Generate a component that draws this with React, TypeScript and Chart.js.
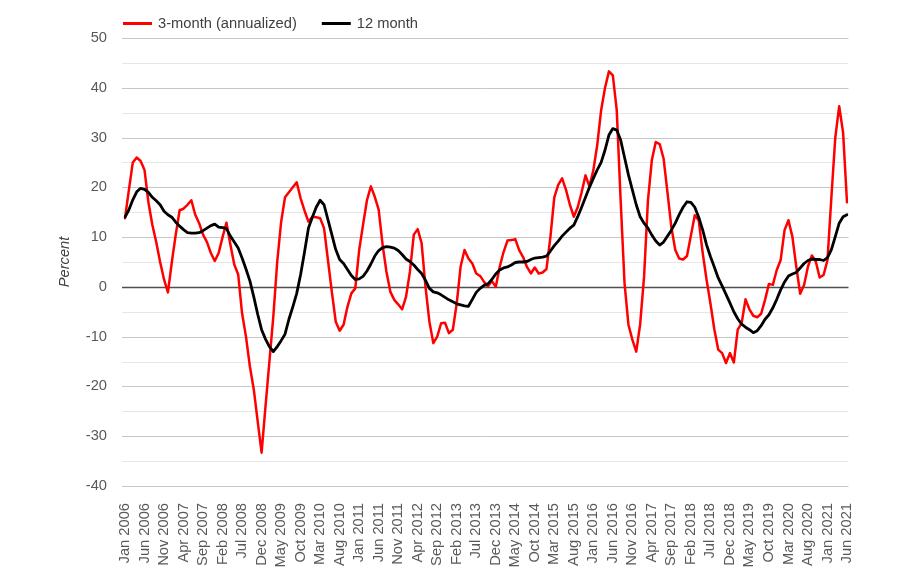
import React, { useEffect, useRef } from "react";
import { Chart, registerables } from "chart.js";

Chart.register(...registerables);

const MONTHS = ["Jan", "Feb", "Mar", "Apr", "May", "Jun", "Jul", "Aug", "Sep", "Oct", "Nov", "Dec"];
const START_YEAR = 2006;
const N_MONTHS = 186; // Jan 2006 .. Jun 2021
const categories: string[] = [];
for (let i = 0; i < N_MONTHS; i++) {
  categories.push(`${MONTHS[i % 12]} ${START_YEAR + Math.floor(i / 12)}`);
}
const LABEL_EVERY = 5;

const threeMonth = [
  13.8, 19.5, 25, 26, 25.3, 23.5, 17, 12.5, 9, 5, 1.5, -1.1,
  5, 10.5, 15.4, 15.7, 16.5, 17.4, 14.5, 12.8, 10.5, 9, 6.8, 5.2,
  6.8, 10, 12.9, 8.5, 4.5, 2.5, -5.3, -10, -16, -20.6, -27, -33.3,
  -24, -15, -6, 5, 13, 18, 19, 20, 21, 17.8, 15.3, 13.1,
  14.1, 14, 13.8, 11.8, 5.4, -1, -7, -8.8, -7.6, -4, -1.3, -0.3,
  7.4, 12.5, 17.4, 20.2, 18.1, 15.5, 8.5, 3, -1, -2.6, -3.5, -4.5,
  -2, 3, 10.5, 11.6, 8.8, 0, -7, -11.3, -10, -7.3, -7.2, -9.3,
  -8.6, -3.3, 4.1, 7.4, 5.7, 4.7, 2.7, 2.2, 1, 0.1, 1.2, 0,
  4, 7, 9.3, 9.4, 9.6, 7.4, 6, 4, 2.7, 3.9, 2.7, 2.9,
  3.6, 10, 18, 20.5, 21.8, 19.5, 16.5, 14.1, 16, 19, 22.4, 20.2,
  23.4, 28.5, 35.5, 40, 43.3, 42.5, 35.5, 17.4, 0.7, -7.6, -10.6, -13,
  -7.5, 2, 17.4, 25.5, 29.1, 28.7, 25.8, 19, 12, 7.4, 5.7, 5.5,
  6.2, 10.3, 14.4, 13.4, 7, 1.5, -3.3, -8.5, -12.6, -13.3, -15.3, -13.3,
  -15.2, -8.6, -7.3, -2.5, -4.5, -5.8, -6.1, -5.4, -2.6, 0.6, 0.4, 3.4,
  5.4, 11.4, 13.4, 10.1, 4.1, -1.4, 0.4, 4.1, 6.3, 5.1, 1.9, 2.4,
  5.4, 18, 30, 36.3, 31, 17,
];

const twelveMonth = [
  14, 15.5, 17.5, 19.1, 19.8, 19.6, 19, 18, 17.3, 16.5, 15.2, 14.5,
  14, 13, 12.2, 11.5, 10.9, 10.8, 10.8, 10.9, 11.3, 11.8, 12.3, 12.6,
  12, 11.9, 11.7, 10.2, 9, 7.8, 5.8, 3.6, 1.2, -2, -5.5, -8.6,
  -10.5, -12, -13, -12, -10.8, -9.5, -6.5, -4, -1.3, 2.5, 7, 11.8,
  14, 16, 17.4, 16.5, 13.5, 10.5, 7.5, 5.5, 4.7, 3.5, 2.3, 1.5,
  1.6, 2.1, 3.2, 4.6, 6.2, 7.3, 7.9, 8.1, 8, 7.8, 7.3, 6.5,
  5.6, 5.1, 4.4, 3.5, 2.7, 1.3, -0.3, -1, -1.2, -1.6, -2.1, -2.6,
  -3, -3.4, -3.6, -3.8, -3.9, -2.5, -1.1, -0.3, 0.3, 0.6, 1.5, 2.6,
  3.4, 3.8, 4, 4.4, 4.9, 5, 5, 5.1, 5.5, 5.8, 5.9, 6,
  6.2, 7.2, 8.3, 9.2, 10.2, 11, 11.8, 12.4, 14.1, 16, 18, 20,
  21.8, 23.5, 25, 27.5, 30.5, 31.8, 31.5, 29.5, 26, 22.5, 19.5, 16.5,
  14.1, 12.8, 11.8, 10.4, 9.2, 8.4, 9, 10.2, 11.4, 12.8, 14.5, 16,
  17.1, 17, 16, 14, 11.5, 8.5, 6.1, 4, 1.8, 0.2, -1.5, -3.2,
  -5, -6.4, -7.5, -8.1, -8.6, -9.2, -8.8, -7.8, -6.5, -5.6, -4.2, -2.5,
  -0.6, 1, 2.2, 2.6, 2.9, 3.8, 4.7, 5.3, 5.6, 5.5, 5.5, 5.3,
  5.9, 7.5, 10.1, 12.8, 14.1, 14.5,
];

const Y_MIN = -40;
const Y_MAX = 50;
const Y_STEP = 5;
const Y_LABEL_STEP = 10;

const SERIES_NAMES = ["3-month (annualized)", "12 month"];
const SERIES_COLORS = ["#ff0000", "#000000"];

const FONT = "'Liberation Sans', Arial, sans-serif";

const gridLegendPlugin = {
  id: "gridLegend",
  beforeDatasetsDraw(chart: any) {
    const { ctx, chartArea } = chart;
    const y = chart.scales.y;
    ctx.save();
    for (let v = Y_MIN; v <= Y_MAX; v += Y_STEP) {
      const py = Math.round(y.getPixelForValue(v)) + 0.5;
      ctx.beginPath();
      if (v === 0) {
        ctx.strokeStyle = "#505050";
        ctx.lineWidth = 1.3;
      } else if (v % Y_LABEL_STEP === 0) {
        ctx.strokeStyle = "#c6c6c6";
        ctx.lineWidth = 1;
      } else {
        ctx.strokeStyle = "#e6e6e6";
        ctx.lineWidth = 1;
      }
      ctx.moveTo(chartArea.left - 3, py);
      ctx.lineTo(chartArea.right + 1.5, py);
      ctx.stroke();
    }
    ctx.restore();
  },
  afterDraw(chart: any) {
    const { ctx } = chart;
    ctx.save();
    ctx.font = `14.7px ${FONT}`;
    ctx.textBaseline = "middle";
    ctx.textAlign = "left";
    const ly = 23.5;
    let x = 123;
    SERIES_NAMES.forEach((name, i) => {
      ctx.beginPath();
      ctx.strokeStyle = SERIES_COLORS[i];
      ctx.lineWidth = 3;
      ctx.moveTo(x, ly);
      ctx.lineTo(x + 29, ly);
      ctx.stroke();
      ctx.fillStyle = "#404040";
      ctx.fillText(name, x + 35, ly);
      const w = ctx.measureText(name).width;
      x = x + 35 + w + 25;
    });
    ctx.restore();
  },
};

export default function App() {
  const ref = useRef<HTMLCanvasElement | null>(null);

  useEffect(() => {
    if (!ref.current) return;
    const chart = new Chart(ref.current, {
      type: "line",
      data: {
        labels: categories,
        datasets: [
          {
            label: SERIES_NAMES[0],
            data: threeMonth,
            borderColor: SERIES_COLORS[0],
            backgroundColor: SERIES_COLORS[0],
            borderWidth: 2.5,
            borderJoinStyle: "round",
            borderCapStyle: "round",
            pointRadius: 0,
            tension: 0,
            order: 2,
          },
          {
            label: SERIES_NAMES[1],
            data: twelveMonth,
            borderColor: SERIES_COLORS[1],
            backgroundColor: SERIES_COLORS[1],
            borderWidth: 2.8,
            borderJoinStyle: "round",
            borderCapStyle: "round",
            pointRadius: 0,
            tension: 0,
            order: 1,
          },
        ],
      },
      options: {
        responsive: false,
        animation: false,
        layout: { padding: { top: 38, left: 0, right: 63, bottom: 0 } },
        plugins: {
          legend: { display: false },
          tooltip: { enabled: false },
        },
        scales: {
          x: {
            type: "category",
            offset: false,
            grid: { display: false, drawTicks: false },
            border: { display: false },
            ticks: {
              autoSkip: false,
              minRotation: 90,
              maxRotation: 90,
              padding: 17,
              color: "#595959",
              font: { family: FONT, size: 14.7 },
              callback: (_v: any, i: number) => (i % LABEL_EVERY === 0 ? categories[i] : ""),
            },
            afterFit: (s: any) => {
              s.height = 91;
            },
          },
          y: {
            min: Y_MIN,
            max: Y_MAX,
            grid: { display: false, drawTicks: false },
            border: { display: false },
            ticks: {
              stepSize: Y_STEP,
              padding: 18,
              color: "#595959",
              font: { family: FONT, size: 14.7 },
              callback: (v: any) => (Number(v) % Y_LABEL_STEP === 0 ? String(v) : ""),
            },
            title: {
              display: true,
              text: "Percent",
              color: "#404040",
              font: { family: FONT, size: 14.7, style: "italic" },
              padding: { top: 56, bottom: 0 },
            },
            afterFit: (s: any) => {
              s.width = 125;
            },
          },
        },
      },
      plugins: [gridLegendPlugin],
    });
    return () => chart.destroy();
  }, []);

  return (
    <div style={{ position: "fixed", left: 0, top: 0, width: 910, height: 577, background: "#fff" }}>
      <canvas ref={ref} width={910} height={577} style={{ display: "block" }} />
    </div>
  );
}
